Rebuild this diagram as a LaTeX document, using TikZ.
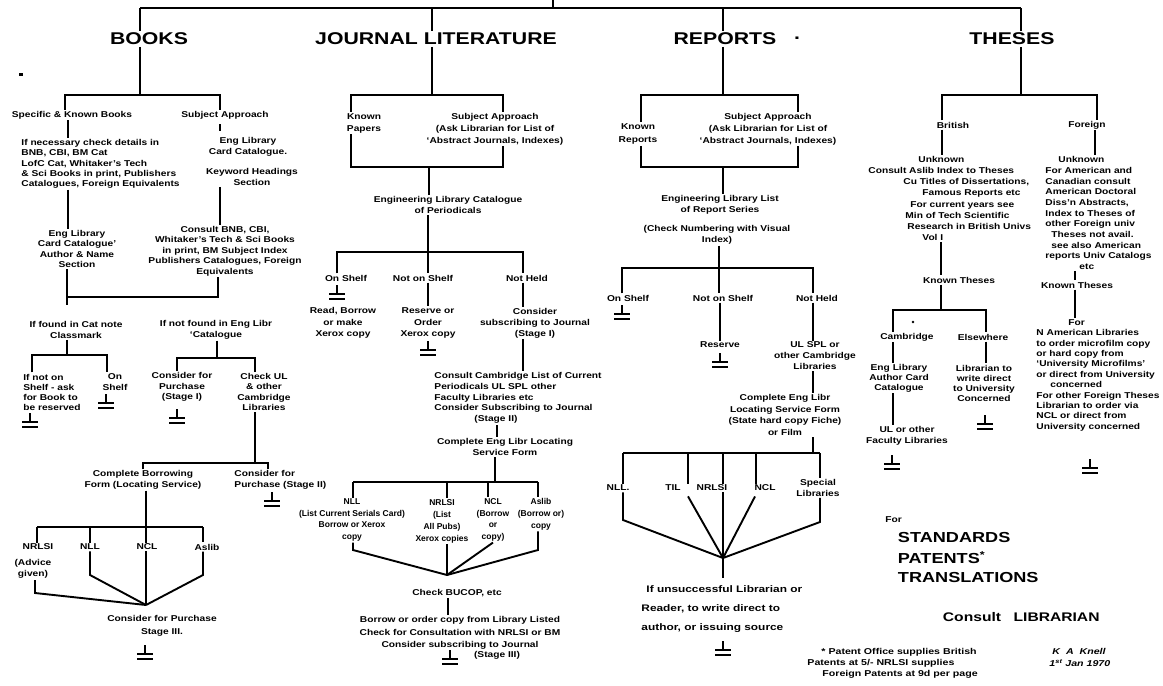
\documentclass[tikz,border=0pt]{standalone}
\usepackage{fontspec}
\setmainfont{Liberation Sans}[FakeStretch=1.2]
\newfontfamily\headfont{Liberation Sans}[FakeStretch=1.25]
\newfontfamily\narrowfont{Liberation Sans}
\begin{document}
\begin{tikzpicture}[x=1pt,y=-1pt,line width=1.9pt,
  t/.style={font=\bfseries\fontsize{8.5}{10.5}\selectfont,align=center,inner sep=0.5pt},
  ls/.style={font=\bfseries\fontsize{8.5}{#1}\selectfont},
  tsm/.style={font=\narrowfont\bfseries\fontsize{8.5}{#1}\selectfont},
  wide/.style 2 args={font=\headfont\bfseries\fontsize{#1}{#2}\selectfont},
  hd/.style={font=\headfont\bfseries\fontsize{17}{20}\selectfont,inner sep=1pt},
  big/.style={font=\headfont\bfseries\fontsize{14.5}{17}\selectfont,inner sep=1pt,anchor=west},
  gnd/.pic={\draw (0,0)--(0,9) (-8,9)--(8,9) (-8,14)--(8,14);}]
\useasboundingbox (0,0) rectangle (1163,686);

% ---------------- top bar and headings
\coordinate (top) at (553,0);
\coordinate (barM) at (553,8);
\coordinate (barL) at (140,8);
\coordinate (barR) at (1021,8);
\coordinate (jx) at (432,8);
\coordinate (rx) at (723,8);
\draw (top) -- (barM);
\draw (barL) -- (barR);
\node[hd] (books) at (149,39) {BOOKS};
\node[hd] (journal) at (436,39) {JOURNAL LITERATURE};
\node[hd] (reports) at (725,39) {REPORTS};
\node[hd] (repdot) at (797,38) {.};
\node[hd] (theses) at (1012,39) {THESES};
\draw (barL) -- (books.north -| barL);
\draw (jx) -- (journal.north -| jx);
\draw (rx) -- (reports.north -| rx);
\draw (barR) -- (theses.north -| barR);
\fill (19,73) rectangle (23,75.5);

% ---------------- BOOKS
\coordinate (bkT) at (140,95);
\coordinate (bkL) at (65,95);
\coordinate (bkR) at (220,95);
\coordinate (bx1) at (68,0);
\coordinate (bx2) at (220,0);
\draw (books.south -| bkT) -- (bkT);
\node[t] (bspec) at (72,115) {Specific \& Known Books};
\node[t] (bsubj) at (225,115) {Subject Approach};
\draw (bspec.north -| bkL) -- (bkL) -- (bkR) -- (bsubj.north -| bkR);
\node[t,ls=10.2,align=left,anchor=north west] (bcheck) at (20,138)
  {If necessary check details in\\BNB, CBI, BM Cat\\LofC Cat, Whitaker's Tech\\\& Sci Books in print, Publishers\\Catalogues, Foreign Equivalents};
\draw (bspec.south -| bx1) -- (bcheck.north -| bx1);
\node[t] (bcard) at (248,147) {Eng Library\\Card Catalogue.};
\node[t] (bkey) at (252,177) {Keyword Headings\\Section};
\draw[shorten <=4pt,shorten >=5pt] (bsubj.south -| bx2) -- (bcard.north -| bx2);
\node[t] (bconsult) at (225,251) {Consult BNB, CBI,\\Whitaker's Tech \& Sci Books\\in print, BM Subject Index\\Publishers Catalogues, Foreign\\Equivalents};
\draw (bkey.south -| bx2) -- (bconsult.north -| bx2);
\node[t] (beng) at (77,249) {Eng Library\\Card Catalogue'\\Author \& Name\\Section};
\draw (bcheck.south -| bx1) -- (beng.north -| bx1);
\coordinate (bmL) at (67,297);
\coordinate (bmR) at (218,297);
\draw (beng.south -| bmL) -- (bmL) -- (bmR) -- (bconsult.south -| bmR);
\draw (bmL) -- ([yshift=-8pt]bmL);

\node[t] (bfound) at (76,330) {If found in Cat note\\Classmark};
\node[t] (bnotf) at (216,330) {If not found in Eng Libr\\`Catalogue};
\node[t,ls=10,align=left] (bnots) at (52,392) {If not on\\Shelf - ask\\for Book to\\be reserved};
\node[t] (bons) at (115,382) {On\\Shelf};
\coordinate (bfT) at (67,355);
\coordinate (bfL) at (32,355);
\coordinate (bfR) at (107,355);
\draw (bfound.south -| bfT) -- (bfT);
\draw (bnots.north -| bfL) -- (bfL) -- (bfR) -- (bons.north -| bfR);
\pic at (30,413) {gnd};
\pic at (106,394) {gnd};

\node[t] (bcons1) at (182,387) {Consider for\\Purchase\\(Stage I)};
\node[t] (bcheckul) at (264,392) {Check UL\\\& other\\Cambridge\\Libraries};
\coordinate (bnT) at (217,358);
\coordinate (bnL) at (177,358);
\coordinate (bnR) at (255,358);
\draw (bnotf.south -| bnT) -- (bnT);
\draw (bcons1.north -| bnL) -- (bnL) -- (bnR) -- (bcheckul.north -| bnR);
\pic at (177,409) {gnd};

\node[t] (bcomplete) at (143,480) {Complete Borrowing\\Form (Locating Service)};
\node[t,align=left,anchor=west] (bcons2) at (233,480) {Consider for\\Purchase (Stage II)};
\coordinate (bcT) at (255,463);
\coordinate (bcL) at (143,463);
\coordinate (bcR) at (268,463);
\draw (bcheckul.south -| bcT) -- (bcT);
\draw (bcomplete.north -| bcL) -- (bcL) -- (bcR) -- (bcons2.north -| bcR);
\pic at (272,492) {gnd};

\node[t] (bnr) at (38,547) {NRLSI};
\node[t] (bnl) at (90,547) {NLL};
\node[t] (bnc) at (147,547) {NCL};
\node[t] (bas) at (207,547) {Aslib};
\node[t,ls=11.5] (badv) at (33,569) {(Advice\\given)};
\coordinate (bbT) at (146,527);
\coordinate (bbL) at (37,527);
\coordinate (bbN) at (90,527);
\coordinate (bbR) at (203,527);
\draw (bcomplete.south -| bbT) -- (bbT);
\draw (bbL) -- (bbR);
\draw (bbL) -- (bnr.north -| bbL);
\draw (bbN) -- (bnl.north -| bbN);
\draw (bbT) -- (bnc.north -| bbT);
\draw (bbR) -- (bas.north -| bbR);
\coordinate (bconv) at (146,605);
\coordinate (bk1) at (35,593);
\coordinate (bk2) at (90,575);
\coordinate (bk3) at (203,575);
\draw (badv.south -| bk1) -- (bk1) -- (bconv);
\draw (bnl.south -| bk2) -- (bk2) -- (bconv);
\draw (bnc.south -| bconv) -- (bconv);
\draw (bas.south -| bk3) -- (bk3) -- (bconv);
\node[t,ls=13] (bcons3) at (162,626) {Consider for Purchase\\Stage III.};
\pic at (145,645) {gnd};

% ---------------- JOURNAL LITERATURE
\coordinate (jT) at (432,95);
\coordinate (jTL) at (351,95);
\coordinate (jTR) at (503,95);
\coordinate (jBL) at (351,167);
\coordinate (jBR) at (503,167);
\coordinate (jB) at (429,167);
\draw (journal.south -| jT) -- (jT);
\node[t,ls=12] (jknown) at (364,123) {Known\\Papers};
\node[t,ls=12] (jsubj) at (495,129) {Subject Approach\\(Ask Librarian for List of\\`Abstract Journals, Indexes)};
\draw (jknown.north -| jTL) -- (jTL) -- (jTR) -- (jsubj.north -| jTR);
\draw (jknown.south -| jBL) -- (jBL) -- (jBR) -- (jsubj.south -| jBR);
\node[t] (jeng) at (448,205) {Engineering Library Catalogue\\of Periodicals};
\draw (jB) -- (jeng.north -| jB);

\coordinate (jsT) at (428,252);
\coordinate (jsL) at (337,252);
\coordinate (jsR) at (523,252);
\draw (jeng.south -| jsT) -- (jsT);
\node[t] (jon) at (346,278) {On Shelf};
\node[t] (jnot) at (423,278) {Not on Shelf};
\node[t] (jnh) at (527,278) {Not Held};
\draw (jon.north -| jsL) -- (jsL) -- (jsR) -- (jnh.north -| jsR);
\draw (jsT) -- (jnot.north -| jsT);
\pic at (337,285) {gnd};
\node[t,ls=11.5] (jread) at (343,323) {Read, Borrow\\or make\\Xerox copy};
\node[t,ls=11.5] (jres) at (428,323) {Reserve or\\Order\\Xerox copy};
\node[t,ls=11] (jcons) at (535,323) {Consider\\subscribing to Journal\\(Stage I)};
\draw (jnot.south -| jsT) -- (jres.north -| jsT);
\draw (jnh.south -| jsR) -- (jcons.north -| jsR);
\pic at (428,341) {gnd};

\node[t,ls=10.8,align=left,anchor=west] (jcc) at (433,398) {Consult Cambridge List of Current\\Periodicals UL SPL other\\Faculty Libraries etc\\Consider Subscribing to Journal\\\hspace*{40pt}(Stage II)};
\draw (jcons.south -| jsR) -- (jcc.north -| jsR);
\node[t,ls=11] (jcomp) at (505,447) {Complete Eng Libr Locating\\Service Form};
\coordinate (jcx) at (497,0);
\draw (jcc.south -| jcx) -- (jcomp.north -| jcx);

\coordinate (jlT) at (495,482);
\coordinate (jlL) at (353,482);
\coordinate (jlM) at (447,482);
\coordinate (jlN) at (488,482);
\coordinate (jlR) at (538,482);
\node[t,tsm=11.5] (jnll) at (352,520) {NLL\\(List Current Serials Card)\\Borrow or Xerox\\copy};
\node[t,tsm=12] (jnr) at (442,521) {NRLSI\\(List\\All Pubs)\\Xerox copies};
\node[t,tsm=11.5] (jnc) at (493,520) {NCL\\(Borrow\\or\\copy)};
\node[t,tsm=12] (jas) at (541,514) {Aslib\\(Borrow or)\\copy};
\draw (jcomp.south -| jlT) -- (jlT);
\draw (jlL) -- (jlR);
\draw (jlL) -- (jnll.north -| jlL);
\draw (jlM) -- (jnr.north -| jlM);
\draw (jlN) -- (jnc.north -| jlN);
\draw (jlR) -- (jas.north -| jlR);
\coordinate (jconv) at (447,575);
\coordinate (jk1) at (353,550);
\coordinate (jk3) at (538,550);
\draw (jnll.south -| jk1) -- (jk1) -- (jconv);
\draw (jnr.south -| jconv) -- (jconv);
\draw (jnc.south) -- (jconv);
\draw (jas.south -| jk3) -- (jk3) -- (jconv);

\node[t] (jbucop) at (457,593) {Check BUCOP, etc};
\node[t,ls=12.5] (jfin) at (460,633) {Borrow or order copy from Library Listed\\Check for Consultation with NRLSI or BM\\Consider subscribing to Journal};
\coordinate (jfx) at (448,0);
\draw (jbucop.south -| jfx) -- (jfin.north -| jfx);
\node[t] (jst3) at (497,655) {(Stage III)};
\pic at (450,650) {gnd};

% ---------------- REPORTS
\coordinate (rT) at (723,95);
\coordinate (rTL) at (641,95);
\coordinate (rTR) at (798,95);
\coordinate (rBL) at (641,167);
\coordinate (rBR) at (798,167);
\coordinate (rB) at (723,167);
\draw (reports.south -| rT) -- (rT);
\node[t,ls=13] (rknown) at (638,134) {Known\\Reports};
\node[t,ls=12] (rsubj) at (768,129) {Subject Approach\\(Ask Librarian for List of\\`Abstract Journals, Indexes)};
\draw (rknown.north -| rTL) -- (rTL) -- (rTR) -- (rsubj.north -| rTR);
\draw (rknown.south -| rBL) -- (rBL) -- (rBR) -- (rsubj.south -| rBR);
\node[t] (reng) at (720,205) {Engineering Library List\\of Report Series};
\draw (rB) -- (reng.north -| rB);
\node[t] (rcheck) at (717,235) {(Check Numbering with Visual\\Index)};

\coordinate (rsT) at (719,268);
\coordinate (rsL) at (622,268);
\coordinate (rsR) at (813,268);
\draw (rcheck.south -| rsT) -- (rsT);
\node[t] (ron) at (628,298) {On Shelf};
\node[t] (rnot) at (723,298) {Not on Shelf};
\node[t] (rnh) at (817,298) {Not Held};
\draw (ron.north -| rsL) -- (rsL) -- (rsR) -- (rnh.north -| rsR);
\draw (rsT) -- (rnot.north -| rsT);
\pic at (622,305) {gnd};
\node[t] (rres) at (720,345) {Reserve};
\coordinate (rrx) at (720,0);
\draw (rnot.south -| rrx) -- (rres.north -| rrx);
\pic at (720,353) {gnd};
\node[t,ls=11] (rul) at (815,356) {UL SPL or\\other Cambridge\\Libraries};
\coordinate (rux) at (813,0);
\draw (rnh.south -| rux) -- (rul.north -| rux);
\node[t,ls=11.7] (rcomp) at (785,415) {Complete Eng Libr\\Locating Service Form\\(State hard copy Fiche)\\or Film};
\draw (rul.south -| rux) -- (rcomp.north -| rux);

\coordinate (rlT) at (813,453);
\coordinate (rlL) at (623,453);
\coordinate (rl2) at (688,453);
\coordinate (rl3) at (723,453);
\coordinate (rl4) at (756,453);
\coordinate (rlR) at (820,453);
\node[t] (rnll) at (618,488) {NLL.};
\node[t] (rtil) at (673,488) {TIL};
\node[t] (rnr) at (712,488) {NRLSI};
\node[t] (rnc) at (765,488) {NCL};
\node[t] (rsp) at (818,488) {Special\\Libraries};
\draw (rcomp.south -| rlT) -- (rlT);
\draw (rlL) -- (rlR);
\draw (rlL) -- (rnll.north -| rlL);
\draw (rl2) -- (rtil.north -| rl2);
\draw (rl3) -- (rnr.north -| rl3);
\draw (rl4) -- (rnc.north -| rl4);
\draw (rlR) -- (rsp.north -| rlR);
\coordinate (rconv) at (723,558);
\coordinate (rk1) at (623,520);
\coordinate (rk2) at (688,0);
\coordinate (rk4) at (755,0);
\coordinate (rk5) at (820,522);
\coordinate (rend) at (723,578);
\draw (rnll.south -| rk1) -- (rk1) -- (rconv);
\draw ([yshift=-4pt]rtil.south -| rk2) -- (rconv);
\draw (rnr.south -| rconv) -- (rend);
\draw ([yshift=-4pt]rnc.south -| rk4) -- (rconv);
\draw (rsp.south -| rk5) -- (rk5) -- (rconv);
\node[t,wide={9.5}{19},align=left,anchor=north west] (rif) at (640,584) {\hspace*{5pt}If unsuccessful Librarian or\\Reader, to write direct to\\author, or issuing source};
\pic at (723,641) {gnd};

% ---------------- THESES
\coordinate (tT) at (1021,95);
\coordinate (tL) at (942,95);
\coordinate (tR) at (1097,95);
\draw (theses.south -| tT) -- (tT);
\node[t] (tbrit) at (953,125) {British};
\node[t] (tfor) at (1087,125) {Foreign};
\draw (tbrit.north -| tL) -- (tL) -- (tR) -- (tfor.north -| tR);
\node[t,ls=11.1,align=left,anchor=north west] (tbunk) at (867,155)
  {\hspace*{50pt}Unknown\\Consult Aslib Index to Theses\\\hspace*{35pt}Cu Titles of Dissertations,\\\hspace*{54pt}Famous Reports etc\\\hspace*{42pt}For current years see\\\hspace*{37pt}Min of Tech Scientific\\\hspace*{39pt}Research in British Univs\\\hspace*{54pt}Vol I};
\coordinate (tbx) at (942,0);
\draw (tbrit.south -| tbx) -- (tbunk.north -| tbx);
\node[t,ls=10.7,align=left,anchor=north west] (tfunk) at (1044,155)
  {\hspace*{13pt}Unknown\\For American and\\Canadian consult\\American Doctoral\\Diss'n Abstracts,\\Index to Theses of\\other Foreign univ\\\hspace*{6pt}Theses not avail.\\\hspace*{6pt}see also American\\reports Univ Catalogs\\\hspace*{34pt}etc};
\coordinate (tfx) at (1095,0);
\draw (tfor.south -| tfx) -- (tfunk.north -| tfx);

\node[t] (tbknown) at (959,280) {Known Theses};
\coordinate (tvx) at (941,0);
\draw (tbunk.south -| tvx) -- (tbknown.north -| tvx);
\coordinate (tbL) at (893,310);
\coordinate (tbM) at (941,310);
\coordinate (tbR) at (986,310);
\draw (tbknown.south -| tbM) -- (tbM);
\node[t] (tcam) at (907,337) {Cambridge};
\node[t] (telse) at (983,337) {Elsewhere};
\draw (tcam.north -| tbL) -- (tbL) -- (tbR) -- (telse.north -| tbR);
\fill (913,322) circle (1.3);
\node[t,ls=10] (tceng) at (899,378) {Eng Library\\Author Card\\Catalogue};
\coordinate (tcx) at (893,0);
\draw (tcam.south -| tcx) -- (tceng.north -| tcx);
\node[t,ls=10.5] (tcul) at (907,436) {UL or other\\Faculty Libraries};
\draw (tceng.south -| tcx) -- (tcul.north -| tcx);
\pic at (892,455) {gnd};
\node[t,ls=10] (telib) at (984,383) {Librarian to\\write direct\\to University\\Concerned};
\coordinate (tex) at (986,0);
\draw (telse.south -| tex) -- (telib.north -| tex);
\pic at (985,415) {gnd};

\node[t] (tfknown) at (1077,285) {Known Theses};
\coordinate (tfx2) at (1075,0);
\draw (tfunk.south -| tfx2) -- (tfknown.north -| tfx2);
\node[t,ls=10.4,align=left,anchor=north west] (tfor2) at (1035,318)
  {\hspace*{32pt}For\\N American Libraries\\to order microfilm copy\\or hard copy from\\`University Microfilms'\\or direct from University\\\hspace*{14pt}concerned\\For other Foreign Theses\\Librarian to order via\\NCL or direct from\\University concerned};
\draw (tfknown.south -| tfx2) -- (tfor2.north -| tfx2);
\pic at (1090,459) {gnd};

% ---------------- bottom right notes
\node[t,anchor=west] (sfor) at (884,520) {For};
\node[big] (sstd) at (896,538) {STANDARDS};
\node[big] (spat) at (896,558) {PATENTS\raisebox{5pt}{\fontsize{10}{10}\selectfont*}};
\node[big] (str) at (896,578) {TRANSLATIONS};
\node[anchor=west,font=\headfont\bfseries\fontsize{12.5}{14}\selectfont,inner sep=1pt] (scons) at (941,617) {Consult\quad LIBRARIAN};
\node[t,wide={8.5}{11},align=left,anchor=north west] (fn) at (806,647) {\hspace*{14pt}* Patent Office supplies British\\Patents at 5/- NRLSI supplies\\\hspace*{15pt}Foreign Patents at 9d per page};
\node[t,wide={8.5}{12},align=left,anchor=north west] (kak) at (1048,647) {\itshape\hspace*{3pt}K\ \ A\ \ Knell\\\itshape 1\textsuperscript{st} Jan 1970};
\end{tikzpicture}
\end{document}
